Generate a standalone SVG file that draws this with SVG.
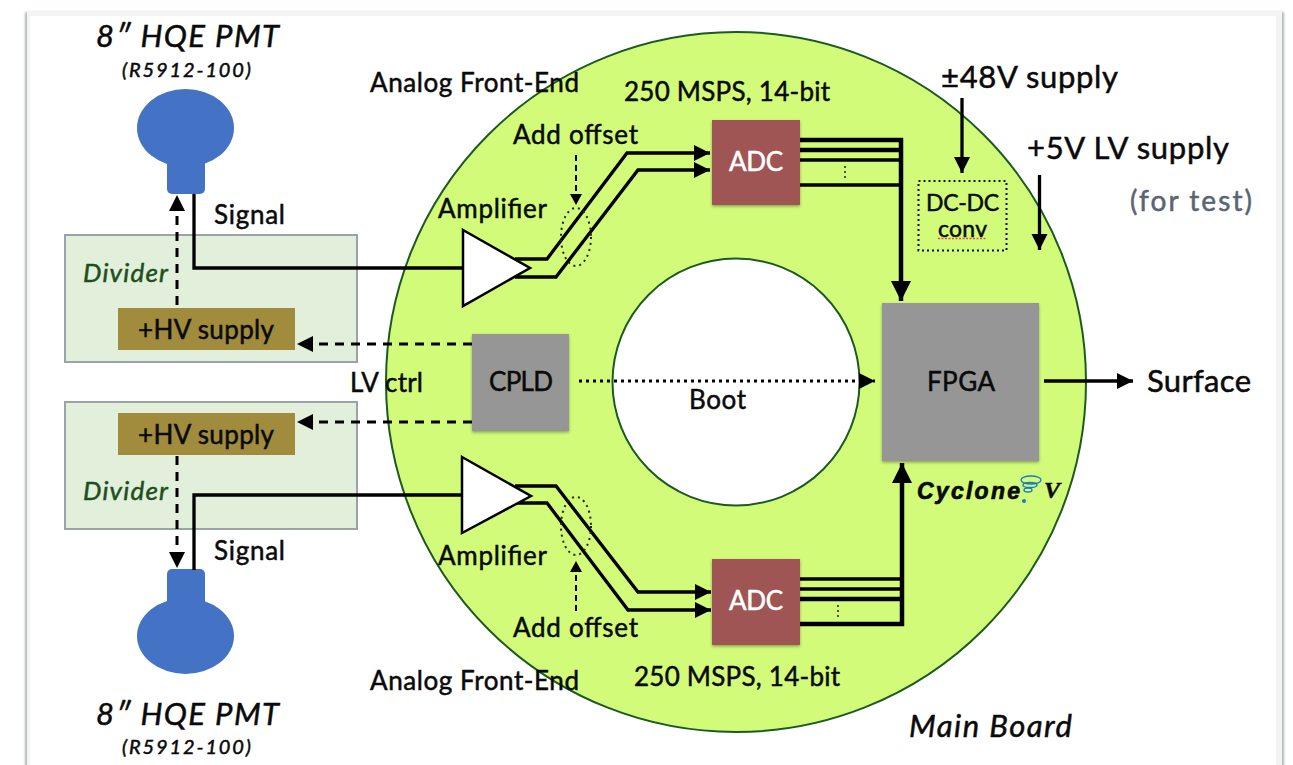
<svg xmlns="http://www.w3.org/2000/svg" width="1293" height="765" viewBox="0 0 1293 765">
<style>
text{font-family:"Lato","Noto Sans","Liberation Sans",sans-serif;fill:#0a0a0a;text-anchor:middle;stroke:#0a0a0a;stroke-width:.5;transform:translateY(1px)}
.lbl{font-size:26px}
.big{font-size:31px}
.it{font-style:italic}
.pmt{fill:#4472c4}
.divider{fill:#e2efda;stroke:#9aa3a8;stroke-width:2}
.hv{fill:#a08c3c}
.adc{fill:#a05555;filter:url(#sh)}
.chip{fill:#969696;filter:url(#sh)}
.w{fill:none;stroke:#000;stroke-width:3.300}
.t{fill:none;stroke:#000;stroke-width:4.500}
.d{fill:none;stroke:#000;stroke-width:3;stroke-dasharray:9 7}
.o{fill:none;stroke:#222;stroke-width:2;stroke-dasharray:2 4}
.amp{fill:#fff;stroke:#000;stroke-width:2.500}
.dv{fill:#1c4f1c;stroke:#1c4f1c;font-size:26px;font-style:italic}
.wh{fill:#fff;stroke:#fff;font-size:26px}
</style>
<defs>
<filter id="sh" x="-10%" y="-10%" width="120%" height="120%"><feDropShadow dx="0" dy="1.500" stdDeviation="1.500" flood-color="#000" flood-opacity=".35"/></filter>
<filter id="soft" x="-2%" y="-2%" width="104%" height="104%"><feGaussianBlur stdDeviation="1"/></filter>
<marker id="a" markerUnits="userSpaceOnUse" markerWidth="22" markerHeight="22" refX="16" refY="8" orient="auto"><path d="M0 0L16 8L0 16Z" fill="#000"/></marker>
<marker id="b" markerUnits="userSpaceOnUse" markerWidth="24" markerHeight="24" refX="20" refY="10" orient="auto"><path d="M0 0L20 10L0 20Z" fill="#000"/></marker>
<marker id="c" markerUnits="userSpaceOnUse" markerWidth="14" markerHeight="14" refX="11" refY="6" orient="auto"><path d="M0 0L11 6L0 12Z" fill="#000"/></marker>
</defs>
<g id="page">
<rect x="0" y="0" width="1293" height="765" fill="#fff"/>
<rect x="25" y="12" width="1259" height="770" fill="#b4b8b8" filter="url(#soft)"/>
<rect x="27" y="11" width="1255" height="770" fill="#f2f5f4"/>
<rect x="30" y="16" width="1246" height="760" fill="#fff"/>
</g>
<g id="main-board">
<circle cx="736" cy="382" r="350" fill="#d2fb7a" stroke="#1d5a22" stroke-width="2"/>
<circle cx="736" cy="382" r="123.500" fill="#fff" stroke="#1d5a22" stroke-width="2"/>
<text x="990.500" y="736" class="big it" textLength="163">Main Board</text>
</g>
<g id="pmt-top"><ellipse class="pmt" cx="185.500" cy="128" rx="48.500" ry="39"/><rect class="pmt" x="167" y="150" width="38" height="44" rx="5"/>
<text x="187.500" y="46" class="big it" textLength="183">8″ HQE PMT</text><text x="186.500" y="76" class="it" font-size="20" textLength="129">(R5912-100)</text></g>
<g id="pmt-bottom"><ellipse class="pmt" cx="185.500" cy="636" rx="48.500" ry="38"/><rect class="pmt" x="167" y="569" width="38" height="44" rx="5"/>
<text x="187.500" y="724" class="big it" textLength="183">8″ HQE PMT</text><text x="186.500" y="753" class="it" font-size="20" textLength="129">(R5912-100)</text></g>
<g id="divider-top"><rect class="divider" x="65" y="235" width="292" height="127"/><text x="125.500" y="281" class="dv" textLength="85">Divider</text></g>
<g id="divider-bottom"><rect class="divider" x="65" y="402" width="292" height="127"/><text x="125.500" y="499" class="dv" textLength="85">Divider</text></g>
<g id="hv-top"><rect class="hv" x="118" y="308" width="177" height="42"/><text x="206" y="338" class="lbl" textLength="136">+HV supply</text></g>
<g id="hv-bottom"><rect class="hv" x="118" y="413" width="177" height="42"/><text x="206" y="443" class="lbl" textLength="136">+HV supply</text></g>
<g id="connectors">
<path class="w" d="M194 194V268H463"/>
<path class="w" d="M194 570V495H462"/>
<path class="d" d="M177 305V195" marker-end="url(#a)"/>
<path class="d" d="M177 456V568" marker-end="url(#a)"/>
<path class="d" d="M472 344H297" marker-end="url(#a)"/>
<path class="d" d="M472 422H297" marker-end="url(#a)"/>
<path class="w" d="M515 259H547L627 153H710" marker-end="url(#a)"/>
<path class="w" d="M515 277H556L638 170H710" marker-end="url(#a)"/>
<path class="w" d="M515 486H556L638 592H711" marker-end="url(#a)"/>
<path class="w" d="M515 503H547L628 610H711" marker-end="url(#a)"/>
<path class="t" d="M800 140H901V301" marker-end="url(#b)"/>
<path class="t" d="M800 150H901"/><path class="w" d="M800 160H901"/><path class="w" d="M800 185H901"/>
<path class="t" d="M800 624H902V463" marker-end="url(#b)"/>
<path class="w" d="M800 579H902"/><path class="w" d="M800 589H902"/><path class="t" d="M800 599H902"/>
<path d="M845 166V178" stroke="#222" stroke-width="1.500" stroke-dasharray="2 3"/>
<path d="M838 605V618" stroke="#222" stroke-width="1.500" stroke-dasharray="2 3"/>
<path d="M579 381H875" fill="none" stroke="#000" stroke-width="3" stroke-dasharray="3 4" marker-end="url(#a)"/>
<path class="w" d="M1044 381H1133" marker-end="url(#a)"/>
<path class="w" d="M962 98V173" marker-end="url(#a)"/>
<path class="w" d="M1039.500 175V250" marker-end="url(#a)"/>
<path d="M576 155V205" fill="none" stroke="#000" stroke-width="2" stroke-dasharray="6 4" marker-end="url(#c)"/>
<path d="M576 611V561" fill="none" stroke="#000" stroke-width="2" stroke-dasharray="6 4" marker-end="url(#c)"/>
<ellipse class="o" cx="576" cy="237" rx="15" ry="29"/>
<ellipse class="o" cx="576" cy="526" rx="15" ry="29"/>
</g>
<g id="amp-top"><path class="amp" d="M463 230L530 268L463 306Z"/><text x="492.500" y="217" class="lbl" textLength="109">Amplifier</text></g>
<g id="amp-bottom"><path class="amp" d="M462 457L531 496L462 533Z"/><text x="492.500" y="564" class="lbl" textLength="109">Amplifier</text></g>
<g id="adc-top"><rect class="adc" x="712" y="120" width="88" height="85"/><text x="756" y="170" class="wh" textLength="54">ADC</text></g>
<g id="adc-bottom"><rect class="adc" x="712" y="559" width="88" height="86"/><text x="756" y="609" class="wh" textLength="54">ADC</text></g>
<g id="cpld"><rect class="chip" x="472" y="334" width="97" height="97"/><text x="521" y="390" class="lbl" textLength="64">CPLD</text></g>
<g id="fpga"><rect class="chip" x="882" y="303" width="157" height="158"/><text x="961" y="390" class="lbl" textLength="68">FPGA</text></g>
<g id="dcdc"><rect x="918.500" y="181" width="88" height="69.500" fill="none" stroke="#111" stroke-width="2" stroke-dasharray="2 3"/>
<text x="962.500" y="210" font-size="23" textLength="73">DC-DC</text><text x="962.500" y="236" font-size="23" textLength="49">conv</text>
<path d="M938 238.500H987" stroke="#e2503a" stroke-width="1.500" stroke-dasharray="2 1.500"/></g>
<g id="cyclone"><text x="968.500" y="498" font-size="23" font-weight="900" font-style="italic" textLength="103" style="font-family:'Liberation Sans',sans-serif;stroke-width:.7">Cyclone</text>
<text x="1052" y="497" font-size="24" font-weight="700" font-style="italic" style="font-family:'Liberation Serif',serif">V</text>
<g fill="none" stroke="#1c78c0" stroke-width="1.300"><ellipse cx="1031" cy="480" rx="10" ry="4"/><ellipse cx="1030" cy="485" rx="7" ry="2.500"/><ellipse cx="1028" cy="490" rx="4" ry="2"/></g><circle cx="1024" cy="501" r="2" fill="#1c78c0"/></g>
<g id="labels">
<text x="474.500" y="91" class="lbl" textLength="209">Analog Front-End</text>
<text x="727" y="100" class="lbl" textLength="206">250 MSPS, 14-bit</text>
<text x="737" y="685" class="lbl" textLength="206">250 MSPS, 14-bit</text>
<text x="474.500" y="689" class="lbl" textLength="209">Analog Front-End</text>
<text x="575.500" y="143" class="lbl" textLength="125">Add offset</text>
<text x="575.500" y="636" class="lbl" textLength="125">Add offset</text>
<text x="249.500" y="223" class="lbl" textLength="71">Signal</text>
<text x="249.500" y="559" class="lbl" textLength="71">Signal</text>
<text x="386.500" y="391" class="lbl" textLength="73">LV ctrl</text>
<text x="717.500" y="408" class="lbl" textLength="57">Boot</text>
<text x="1029.500" y="87" class="big" textLength="177">±48V supply</text>
<text x="1128" y="158" class="big" textLength="202">+5V LV supply</text>
<text x="1191" y="210" font-size="28" textLength="122" style="fill:#5a6472;stroke:#5a6472">(for test)</text>
<text x="1199" y="391" class="big" textLength="104">Surface</text>
</g>
</svg>
